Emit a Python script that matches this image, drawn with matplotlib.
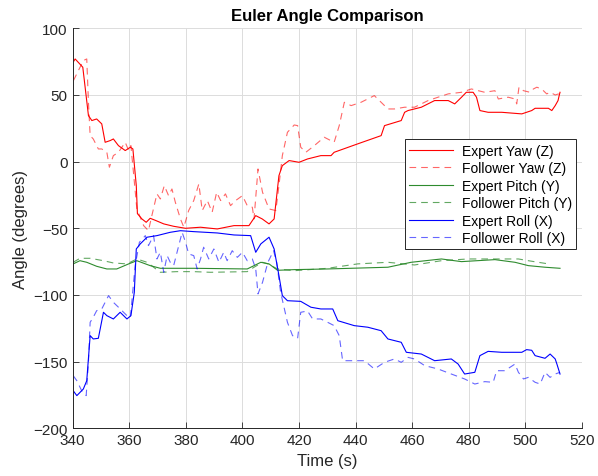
import matplotlib.pyplot as plt

plt.rcParams["font.family"] = ["Liberation Sans", "DejaVu Sans"]

# Expert Yaw (Z)
t_exp_yaw = [340.2, 340.9, 343.6, 345.6, 346.8, 348.5, 350.3, 351.5, 353.3, 354.4, 356.2, 358.6,
             360.4, 361.3, 362.5, 362.9, 364.5, 366.0, 367.4, 369.2, 372.2, 375.7, 379.9, 385.2,
             391.1, 397.0, 402.3, 404.7, 407.0, 409.4, 411.2, 412.9, 414.1, 416.5, 420.0, 423.0,
             427.7, 431.3, 432.4, 440.7, 449.0, 450.2, 456.1, 457.3, 458.5, 463.2, 467.9, 472.7,
             475.0, 477.4, 479.1, 481.5, 482.7, 483.9, 486.8, 491.6, 498.7, 502.2, 503.4, 508.1,
             509.3, 510.5, 511.5, 511.9, 512.2]
v_exp_yaw = [74.6, 77.0, 70.8, 34.5, 30.8, 32.0, 28.3, 14.5, 15.8, 17.0, 12.0, 8.3,
             10.8, 9.5, -18.0, -39.0, -43.0, -45.5, -42.5, -44.0, -46.7, -48.5, -50.0, -49.2,
             -50.5, -48.0, -48.0, -40.5, -43.0, -46.7, -43.0, -10.5, -3.0, 0.8, -0.5, 2.0,
             4.5, 4.5, 7.0, 13.3, 19.5, 27.0, 30.8, 37.0, 38.3, 40.8, 45.8, 45.8,
             43.3, 48.3, 52.0, 52.0, 48.3, 38.3, 37.0, 37.0, 35.8, 38.3, 40.0, 40.0,
             38.3, 42.0, 45.8, 49.5, 52.0]

# Follower Yaw (Z)
t_fol_yaw = [340.3, 343.8, 345.0, 345.6, 346.2, 347.3, 349.1, 350.3, 352.1, 353.0, 354.4, 356.2,
             358.6, 359.8, 360.6, 361.5, 362.7, 365.1, 366.8, 368.0, 369.8, 371.0, 372.4, 373.9,
             375.1, 376.3, 378.1, 379.3, 381.0, 382.8, 384.6, 385.8, 387.6, 389.3, 390.9, 392.3,
             394.0, 395.8, 397.6, 400.0, 401.7, 403.5, 404.1, 405.5, 407.1, 409.4, 411.8, 412.9,
             414.1, 415.9, 418.3, 419.5, 420.6, 422.4, 425.4, 428.9, 432.4, 434.2, 436.0, 438.4,
             441.9, 446.6, 449.0, 451.4, 453.7, 457.3, 460.8, 465.6, 469.1, 472.7, 477.4, 480.9,
             485.6, 489.2, 490.4, 493.9, 496.3, 496.9, 497.7, 499.3, 501.6, 502.8, 504.0, 505.7,
             507.5, 508.7, 510.5, 511.7, 512.2]
v_fol_yaw = [60.8, 75.8, 77.0, 44.5, 19.5, 17.0, 9.5, 9.5, 7.0, -4.2, 4.5, 7.0,
             14.5, 8.3, 12.0, -8.0, -35.5, -48.0, -51.8, -40.5, -24.2, -28.0, -18.0, -25.5,
             -20.5, -30.5, -43.0, -49.2, -36.7, -29.2, -16.7, -36.7, -29.2, -38.0, -23.0, -29.2,
             -24.2, -33.0, -29.2, -25.5, -33.0, -34.2, -43.0, -5.5, -23.0, -35.5, -36.7, -18.0,
             4.5, 22.0, 27.5, 27.0, 10.8, 7.0, 12.0, 18.3, 14.5, 27.0, 44.5, 42.0,
             44.5, 49.5, 44.5, 39.5, 39.5, 40.8, 40.8, 45.8, 48.3, 50.8, 52.0, 54.5,
             52.0, 53.2, 47.0, 48.3, 47.0, 43.3, 55.8, 53.2, 52.0, 54.5, 55.8, 54.5,
             50.8, 52.0, 50.0, 50.8, 52.0]

# Expert Pitch (Y)
t_exp_pitch = [340.2, 342.6, 345.0, 348.5, 352.1, 355.6, 359.8, 362.7, 367.4, 371.0, 382.8, 401.7,
               404.1, 406.5, 409.4, 412.4, 418.3, 430.1, 451.4, 459.6, 470.3, 477.4, 489.2, 496.3,
               501.0, 506.9, 512.2]
v_exp_pitch = [-76.7, -74.3, -75.5, -78.5, -80.5, -80.5, -76.7, -74.3, -78.0, -80.0, -80.0, -80.5,
               -78.0, -75.5, -76.7, -81.5, -81.0, -80.5, -79.2, -75.5, -73.0, -75.0, -73.5, -75.5,
               -78.0, -79.2, -80.0]

# Follower Pitch (Y)
t_fol_pitch = [340.2, 342.6, 346.2, 350.9, 354.4, 359.2, 362.7, 366.3, 371.0, 376.9, 382.8, 388.7,
               401.7, 404.1, 407.1, 409.0, 412.4, 418.3, 430.1, 440.7, 451.4, 460.8, 470.3, 479.7,
               489.2, 497.5, 501.0, 508.1]
v_fol_pitch = [-75.5, -72.5, -72.5, -74.3, -76.0, -76.7, -73.0, -75.5, -83.0, -82.5, -82.5, -83.0,
               -82.5, -79.2, -75.5, -76.7, -80.5, -81.8, -80.0, -76.7, -75.5, -77.5, -74.3, -73.0,
               -73.0, -73.0, -74.3, -76.7]

# Expert Roll (X)
t_exp_roll = [340.2, 341.5, 343.8, 345.0, 346.2, 347.3, 349.1, 350.9, 352.1, 354.4, 356.8, 359.2,
              360.6, 361.8, 362.5, 363.9, 366.3, 369.8, 374.5, 378.1, 382.8, 391.1, 397.0, 402.9,
              404.7, 406.5, 409.4, 411.2, 412.9, 414.1, 415.9, 420.6, 424.2, 427.7, 431.9, 433.7,
              439.5, 444.3, 449.0, 451.4, 456.1, 457.9, 463.2, 467.9, 473.8, 476.2, 478.5, 482.1,
              483.9, 486.8, 491.6, 498.7, 500.4, 502.2, 503.4, 506.9, 508.7, 510.5, 511.1, 512.2]
v_exp_roll = [-171.8, -175.5, -170.5, -164.3, -130.5, -133.0, -132.5, -113.0, -115.5, -118.0, -113.0, -118.0,
              -115.5, -98.0, -65.5, -61.7, -56.7, -55.5, -53.0, -51.8, -52.5, -53.5, -55.0, -55.5,
              -68.0, -61.7, -56.7, -65.5, -85.5, -100.5, -104.3, -104.8, -109.2, -110.5, -110.5, -119.3,
              -123.0, -124.2, -126.8, -133.0, -135.5, -143.0, -144.3, -149.3, -148.0, -151.8, -159.3, -158.0,
              -145.5, -142.3, -143.0, -143.0, -141.0, -141.5, -145.5, -147.5, -144.3, -148.0, -151.8, -159.3]

# Follower Roll (X)
t_fol_roll = [340.2, 341.5, 343.2, 344.8, 345.6, 346.2, 347.3, 348.5, 350.3, 352.7, 354.4, 356.2,
              359.2, 360.4, 362.1, 363.6, 365.7, 366.8, 368.6, 369.8, 371.0, 372.2, 373.4, 374.5,
              375.7, 377.5, 378.7, 379.9, 381.0, 382.8, 384.0, 385.2, 386.3, 388.1, 389.9, 391.7,
              393.4, 394.6, 396.4, 398.2, 400.0, 401.7, 403.5, 404.7, 405.5, 407.1, 409.0, 411.0,
              412.1, 413.5, 415.9, 417.7, 419.5, 420.6, 423.0, 424.8, 427.7, 430.1, 432.4, 434.2,
              435.4, 438.4, 443.1, 446.6, 450.2, 453.7, 456.1, 458.5, 460.8, 464.4, 469.1, 473.8,
              478.5, 482.1, 485.6, 488.6, 489.8, 492.7, 496.3, 497.5, 499.3, 501.0, 503.4, 505.2,
              506.9, 508.7, 510.5, 512.2]
v_fol_roll = [-160.5, -164.3, -171.8, -175.5, -150.5, -120.5, -116.7, -111.8, -110.5, -100.5, -105.5, -109.2,
              -115.5, -117.0, -78.0, -60.5, -55.5, -63.0, -55.5, -73.0, -68.0, -83.0, -70.5, -75.5,
              -78.0, -63.0, -53.0, -60.5, -69.2, -70.5, -80.5, -73.0, -64.2, -73.0, -65.5, -75.5,
              -68.0, -74.3, -66.8, -71.8, -68.0, -74.3, -73.0, -80.5, -99.2, -90.5, -75.5, -66.8,
              -75.5, -98.0, -120.5, -130.5, -132.5, -113.0, -112.0, -118.0, -118.0, -120.5, -123.0, -130.5,
              -149.3, -149.3, -149.3, -155.5, -150.5, -148.0, -150.5, -146.8, -148.0, -153.0, -155.5, -159.3,
              -163.0, -166.8, -165.0, -165.5, -156.8, -156.8, -151.8, -158.0, -163.0, -161.8, -165.5, -166.8,
              -158.0, -161.8, -159.3, -158.0]

xticks = list(range(340, 521, 20))
yticks = list(range(-200, 101, 50))

fig = plt.figure(figsize=(5.98, 4.77), dpi=100)
ax = fig.add_axes([0.1214, 0.10, 0.852, 0.8386])

green = "#2e8b2e"
lw = 0.8
dash = (6, 4.5)
ax.plot(t_exp_yaw, v_exp_yaw, color="red", lw=lw, label="Expert Yaw (Z)")
ax.plot(t_fol_yaw, v_fol_yaw, color="red", lw=lw, ls="--", dashes=dash, alpha=0.6,
        label="Follower Yaw (Z)")
ax.plot(t_exp_pitch, v_exp_pitch, color=green, lw=lw, label="Expert Pitch (Y)")
ax.plot(t_fol_pitch, v_fol_pitch, color=green, lw=lw, ls="--", dashes=dash, alpha=0.75,
        label="Follower Pitch (Y)")
ax.plot(t_exp_roll, v_exp_roll, color="blue", lw=lw, label="Expert Roll (X)")
ax.plot(t_fol_roll, v_fol_roll, color="blue", lw=lw, ls="--", dashes=dash, alpha=0.6,
        label="Follower Roll (X)")

ax.set_xlim(340, 520)
ax.set_ylim(-200, 100)
ax.set_xticks(xticks)
ax.set_yticks(yticks)
ax.tick_params(direction="in", labelsize=11, colors="#262626", length=4, width=0.6)
ax.grid(True, color="#dcdcdc", lw=0.7)
ax.set_axisbelow(True)
for side in ["top", "right"]:
    ax.spines[side].set_visible(False)
for side in ["left", "bottom"]:
    ax.spines[side].set_color("#262626")
    ax.spines[side].set_linewidth(0.7)

ax.set_xlabel("Time (s)", fontsize=12, color="#262626")
ax.set_ylabel("Angle (degrees)", fontsize=12, color="#262626")
ax.set_title("Euler Angle Comparison", fontsize=12, fontweight="bold", pad=6)

leg = ax.legend(loc="upper left", bbox_to_anchor=(0.652, 0.722), fontsize=10,
                frameon=True, fancybox=False, handlelength=3.2, borderpad=0.3,
                labelspacing=0.25, handletextpad=0.6, borderaxespad=0)
leg.get_frame().set_edgecolor("#262626")
leg.get_frame().set_linewidth(0.7)
leg.get_frame().set_alpha(1)

fig.savefig("out.png", dpi=100)
